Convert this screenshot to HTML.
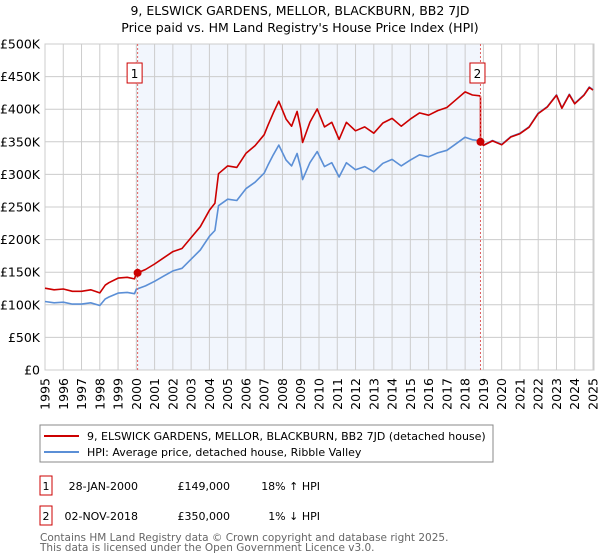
<!DOCTYPE html>
<html><head><meta charset="utf-8">
<style>
body{margin:0;background:#fff;font-family:"DejaVu Sans","Liberation Sans",sans-serif;}
#wrap{position:relative;width:600px;height:560px;overflow:hidden;}
svg{position:absolute;left:0;top:0;}
</style></head>
<body>
<div id="wrap">
<svg id="chart" width="600" height="560"></svg>
</div>
<script>
const years=[1995,1996,1997,1998,1999,2000,2001,2002,2003,2004,2005,2006,2007,2008,2009,2010,2011,2012,2013,2014,2015,2016,2017,2018,2019,2020,2021,2022,2023,2024,2025];
const yTicks=[0,50,100,150,200,250,300,350,400,450,500];
const yTickLabels=["£0","£50K","£100K","£150K","£200K","£250K","£300K","£350K","£400K","£450K","£500K"];
const hpiDates=[1995.0,1995.5,1996.0,1996.5,1997.0,1997.5,1998.0,1998.3,1998.5,1999.0,1999.5,1999.9,2000.0,2000.5,2001.0,2001.5,2002.0,2002.5,2003.0,2003.5,2004.0,2004.3,2004.5,2005.0,2005.5,2006.0,2006.5,2007.0,2007.2,2007.5,2007.8,2008.2,2008.5,2008.8,2009.0,2009.1,2009.5,2009.9,2010.3,2010.7,2011.1,2011.5,2012.0,2012.5,2013.0,2013.5,2014.0,2014.5,2015.0,2015.5,2016.0,2016.5,2017.0,2017.5,2018.0,2018.4,2018.8,2019.0,2019.5,2020.0,2020.5,2021.0,2021.5,2022.0,2022.5,2023.0,2023.3,2023.7,2024.0,2024.5,2024.8,2025.0];
const hpiValues=[105,103,104,101,101,103,99,109,112,118,119,117,124,129,136,144,152,156,170,184,205,214,252,262,260,278,288,302,314,330,345,322,313,332,310,292,318,335,312,318,296,318,307,312,304,317,323,313,322,330,327,333,337,347,357,353,352,345,352,346,358,363,373,394,404,422,402,423,409,422,434,430];
const saleDates=[2000.07,2018.84];
const salePrices=[149,350];
const saleLabels=["1","2"];

const svg=document.getElementById('chart');
const NS="http://www.w3.org/2000/svg";
const L=45,R=594,T=44,B=370;
const X=y=>L+(y-1995)*(R-1-L)/30;
const Y=v=>B-v*(B-T)/500;
function mk(tag,attrs,text){const e=document.createElementNS(NS,tag);for(const k in attrs)e.setAttribute(k,attrs[k]);if(text!==undefined)e.textContent=text;svg.appendChild(e);return e;}

let e;
e=mk('text',{x:300,y:15,'text-anchor':'middle','font-size':'12.5',fill:'#000'},"9, ELSWICK GARDENS, MELLOR, BLACKBURN, BB2 7JD");


e=mk('text',{x:300,y:32,'text-anchor':'middle','font-size':'12.5',fill:'#000'},"Price paid vs. HM Land Registry's House Price Index (HPI)");



e=mk('rect',{x:X(saleDates[0]),y:T,width:X(saleDates[1])-X(saleDates[0]),height:B-T,fill:'#f2f6fd'});



for(let i=0;i<yTicks.length;i++){
  e=mk('line',{x1:L,x2:R,y1:Y(yTicks[i]),y2:Y(yTicks[i]),stroke:'#cccccc','stroke-width':1});
  
  
  e=mk('text',{x:40,y:Y(yTicks[i])+4.5,'text-anchor':'end','font-size':'12.5',fill:'#000'},yTickLabels[i]);
  
  
}
for(let i=0;i<years.length;i++){
  const x=X(years[i]);
  e=mk('line',{x1:x,x2:x,y1:T,y2:B,stroke:'#cccccc','stroke-width':1});
  
  
  e=mk('text',{x:0,y:0,transform:`translate(${x+4.5},${378}) rotate(-90)`,'text-anchor':'end','font-size':'12.5',fill:'#000'},String(years[i]));
  
  
}
e=mk('rect',{x:L,y:T,width:R-L,height:B-T,fill:'none',stroke:'#cccccc'});



function interp(d){for(let i=0;i<hpiDates.length-1;i++){if(d<=hpiDates[i+1]){const t=(d-hpiDates[i])/(hpiDates[i+1]-hpiDates[i]);return hpiValues[i]+t*(hpiValues[i+1]-hpiValues[i]);}}return hpiValues[hpiValues.length-1];}
const f1=salePrices[0]/interp(saleDates[0]);
const f2=salePrices[1]/interp(saleDates[1]);

let pb=hpiDates.map((d,i)=>(i?'L':'M')+X(d).toFixed(1)+','+Y(hpiValues[i]).toFixed(1)).join('');
e=mk('path',{d:pb,fill:'none',stroke:'#5b8fd6','stroke-width':1.6,'stroke-linejoin':'round'});



let pts=[];
for(let i=0;i<hpiDates.length;i++){if(hpiDates[i]<saleDates[1])pts.push([hpiDates[i],hpiValues[i]*f1]);}
pts.push([saleDates[1],interp(saleDates[1])*f1]);
pts.push([saleDates[1],salePrices[1]]);
for(let i=0;i<hpiDates.length;i++){if(hpiDates[i]>saleDates[1])pts.push([hpiDates[i],hpiValues[i]*f2]);}
let pr=pts.map((p,i)=>(i?'L':'M')+X(p[0]).toFixed(1)+','+Y(p[1]).toFixed(1)).join('');
e=mk('path',{d:pr,fill:'none',stroke:'#cc0000','stroke-width':1.6,'stroke-linejoin':'round'});



for(let i=0;i<saleDates.length;i++){
  const x=X(saleDates[i]);
  e=mk('line',{x1:x,x2:x,y1:T,y2:B,stroke:'#e06060','stroke-width':1,'stroke-dasharray':'2,2'});
  
  
  e=mk('circle',{cx:x,cy:Y(salePrices[i]),r:4,fill:'#cc0000'});
  
  
  e=mk('rect',{x:x-10.5,y:63,width:15,height:20,fill:'#fff',stroke:'#cc0000'});
  
  
  e=mk('text',{x:x-3,y:78,'text-anchor':'middle','font-size':'12',fill:'#000'},saleLabels[i]);
  
  
}

e=mk('rect',{x:40,y:425,width:453,height:37,fill:'#fff',stroke:'#888'});


e=mk('line',{x1:44,x2:79,y1:436,y2:436,stroke:'#cc0000','stroke-width':2});


e=mk('text',{x:87,y:440,'font-size':'11',fill:'#000'},"9, ELSWICK GARDENS, MELLOR, BLACKBURN, BB2 7JD (detached house)");


e=mk('line',{x1:44,x2:79,y1:452,y2:452,stroke:'#5b8fd6','stroke-width':2});


e=mk('text',{x:87,y:456,'font-size':'11',fill:'#000'},"HPI: Average price, detached house, Ribble Valley");



const rowDates=["28-JAN-2000","02-NOV-2018"];
const rowPrices=["£149,000","£350,000"];
const rowDiff=["18% ↑ HPI","1% ↓ HPI"];
for(let i=0;i<2;i++){
  const yy=476+i*30;
  e=mk('rect',{x:40,y:yy,width:12,height:19,fill:'#fff',stroke:'#cc0000'});
  
  
  e=mk('text',{x:46,y:yy+14,'text-anchor':'middle','font-size':'11',fill:'#000'},saleLabels[i]);
  
  
  e=mk('text',{x:138,y:yy+14,'text-anchor':'end','font-size':'11',fill:'#000'},rowDates[i]);
  
  
  e=mk('text',{x:230,y:yy+14,'text-anchor':'end','font-size':'11',fill:'#000'},rowPrices[i]);
  
  
  e=mk('text',{x:320,y:yy+14,'text-anchor':'end','font-size':'11',fill:'#000'},rowDiff[i]);
  
  
}
e=mk('text',{x:40,y:541,'font-size':'10.5',fill:'#666'},"Contains HM Land Registry data © Crown copyright and database right 2025.");


e=mk('text',{x:40,y:551,'font-size':'10.5',fill:'#666'},"This data is licensed under the Open Government Licence v3.0.");


</script>
</body></html>
